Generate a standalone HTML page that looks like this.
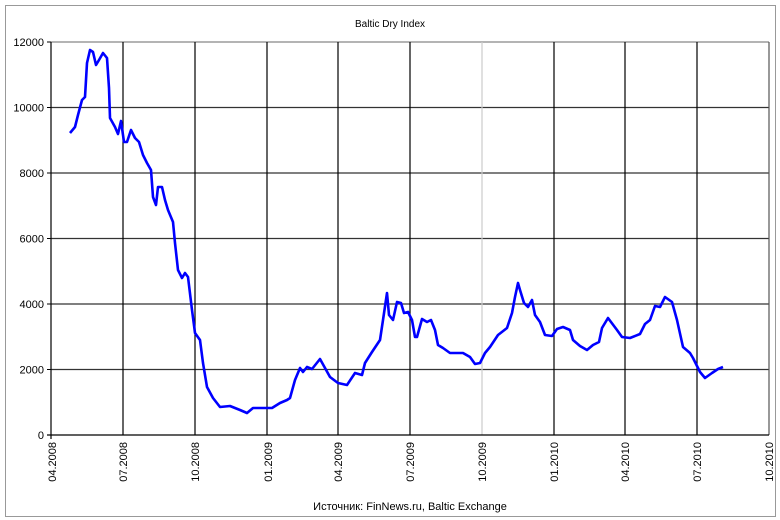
<!DOCTYPE html>
<html><head><meta charset="utf-8"><style>
body{margin:0;background:#fff;}
svg{display:block;font-family:"Liberation Sans","DejaVu Sans",sans-serif;}
</style></head><body>
<svg width="780" height="520" viewBox="0 0 780 520">
<rect x="5.5" y="5.5" width="770" height="511" fill="#fff" stroke="#999" stroke-width="1"/>
<text x="390" y="27" font-size="10" text-anchor="middle">Baltic Dry Index</text>
<g stroke="#333" stroke-width="1.2">
<line x1="51" y1="42" x2="769" y2="42" stroke="#888"/>
<line x1="51" y1="107.5" x2="769" y2="107.5"/>
<line x1="51" y1="173" x2="769" y2="173"/>
<line x1="51" y1="238.5" x2="769" y2="238.5"/>
<line x1="51" y1="304" x2="769" y2="304"/>
<line x1="51" y1="369.5" x2="769" y2="369.5"/>
<line x1="123" y1="42" x2="123" y2="435" stroke="#000"/>
<line x1="195" y1="42" x2="195" y2="435" stroke="#000"/>
<line x1="267" y1="42" x2="267" y2="435" stroke="#000"/>
<line x1="338" y1="42" x2="338" y2="435" stroke="#000"/>
<line x1="410" y1="42" x2="410" y2="435" stroke="#000"/>
<line x1="482" y1="42" x2="482" y2="435" stroke="#ccc"/>
<line x1="554" y1="42" x2="554" y2="435" stroke="#000"/>
<line x1="625" y1="42" x2="625" y2="435" stroke="#000"/>
<line x1="697" y1="42" x2="697" y2="435" stroke="#000"/>
<line x1="769" y1="42" x2="769" y2="435" stroke="#555"/>
<line x1="51" y1="42" x2="51" y2="439" stroke="#000"/>
<line x1="47" y1="435" x2="769" y2="435" stroke="#000"/>
</g>
<g stroke="#000" stroke-width="1">
<line x1="47" y1="42" x2="51" y2="42"/><line x1="47" y1="107.5" x2="51" y2="107.5"/><line x1="47" y1="173" x2="51" y2="173"/><line x1="47" y1="238.5" x2="51" y2="238.5"/><line x1="47" y1="304" x2="51" y2="304"/><line x1="47" y1="369.5" x2="51" y2="369.5"/>
</g>
<g font-size="11" text-anchor="end" fill="#000">
<text x="44" y="46">12000</text><text x="44" y="111.5">10000</text><text x="44" y="177">8000</text><text x="44" y="242.5">6000</text><text x="44" y="308">4000</text><text x="44" y="373.5">2000</text><text x="44" y="439">0</text>
</g>
<g font-size="11" text-anchor="end" fill="#000">
<text transform="translate(56,442) rotate(-90)">04.2008</text>
<text transform="translate(127,442) rotate(-90)">07.2008</text>
<text transform="translate(199,442) rotate(-90)">10.2008</text>
<text transform="translate(272,442) rotate(-90)">01.2009</text>
<text transform="translate(342,442) rotate(-90)">04.2009</text>
<text transform="translate(414,442) rotate(-90)">07.2009</text>
<text transform="translate(486,442) rotate(-90)">10.2009</text>
<text transform="translate(558,442) rotate(-90)">01.2010</text>
<text transform="translate(629,442) rotate(-90)">04.2010</text>
<text transform="translate(701,442) rotate(-90)">07.2010</text>
<text transform="translate(773,442) rotate(-90)">10.2010</text>
</g>
<text x="410" y="510" font-size="11" text-anchor="middle">Источник: FinNews.ru, Baltic Exchange</text>
<polyline fill="none" stroke="#0000ff" stroke-width="2.6" stroke-linejoin="round" points="70,133 75,127 78,115 82,100 85,97 87,63 90,50 93,52 96,65 99,60 103,53 107,58 109,88 110,118 115,127 118,134 121,121 124,142 127,142 131,130 135,138 139,142 143,155 147,163 151,170 153,197 156,205 158,187 162,187 165,200 168,210 173,222 175,243 178,270 182,278 185,273 188,277 192,310 195,333 200,340 203,363 207,387 213,398 220,407 230,406 240,410 247,413 253,408 263,408 272,408 280,403 287,400 290,398 295,380 300,368 303,372 307,367 312,369 320,359 325,368 330,377 338,383 347,385 355,373 362,375 365,363 372,352 380,340 383,320 387,293 389,315 393,320 397,302 401,303 404,313 408,312 412,320 415,337 417,337 422,319 427,322 431,320 435,330 438,345 443,348 450,353 463,353 470,357 475,364 480,363 485,353 490,347 498,335 507,328 512,313 515,297 518,283 520,290 524,303 528,307 532,300 535,315 540,322 545,335 552,336 557,329 563,327 570,330 573,340 580,346 587,350 593,345 599,342 602,328 608,318 617,330 622,337 630,338 640,334 645,324 650,320 655,306 660,307 665,297 672,302 677,320 683,347 690,353 693,358 700,372 705,378 712,373 718,369 723,367"/>
</svg>
</body></html>
